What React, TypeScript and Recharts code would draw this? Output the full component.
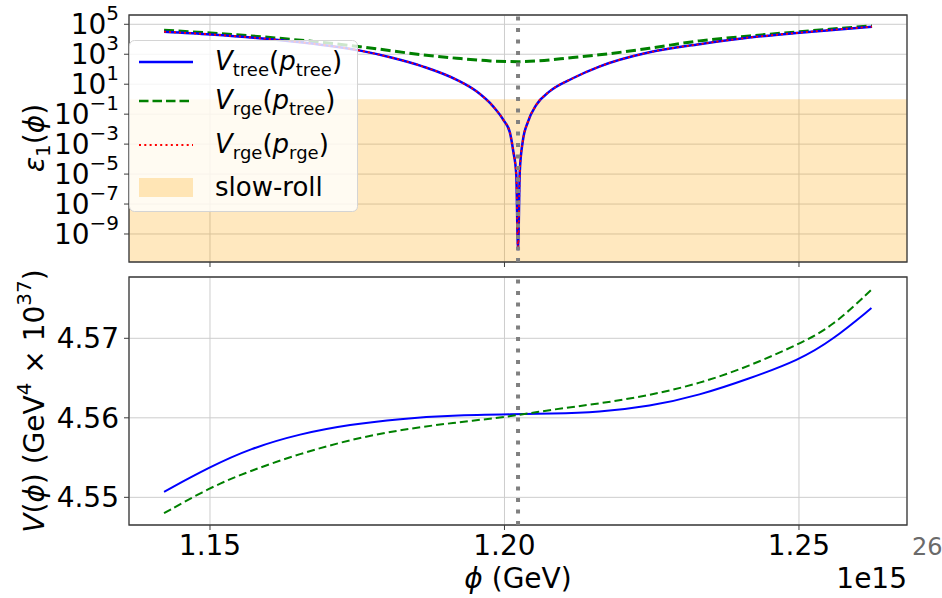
import {
  CartesianGrid,
  Line,
  LineChart,
  ReferenceArea,
  ReferenceLine,
  XAxis,
  YAxis,
} from 'recharts';

// phi in units of 1e15 GeV
const phiDomain: [number, number] = [1.13625, 1.26834];
const phiTicks = [1.15, 1.2, 1.25];
const phiInflection = 1.2023;

// epsilon_1
const epsTree = [
  { phi: 1.1422, eps: 3.2e4 },
  { phi: 1.1501, eps: 2.1e4 },
  { phi: 1.1644, eps: 6.9e3 },
  { phi: 1.1755, eps: 1.74e3 },
  { phi: 1.1806, eps: 6.3e2 },
  { phi: 1.1862, eps: 1.5e2 },
  { phi: 1.1919, eps: 1.95e1 },
  { phi: 1.1953, eps: 3.2 },
  { phi: 1.1981, eps: 3.2e-1 },
  { phi: 1.1998, eps: 4.2e-2 },
  { phi: 1.2009, eps: 6.3e-3 },
  { phi: 1.2015, eps: 3.2e-4 },
  { phi: 1.202, eps: 1.0e-5 },
  { phi: 1.2023, eps: 9.1e-11 },
  { phi: 1.2026, eps: 1.5e-5 },
  { phi: 1.2031, eps: 1.5e-3 },
  { phi: 1.204, eps: 3.2e-2 },
  { phi: 1.2054, eps: 4.2e-1 },
  { phi: 1.2076, eps: 3.2 },
  { phi: 1.2116, eps: 2.5e1 },
  { phi: 1.2161, eps: 1.5e2 },
  { phi: 1.2246, eps: 1.35e3 },
  { phi: 1.2331, eps: 4.7e3 },
  { phi: 1.2416, eps: 1.3e4 },
  { phi: 1.2501, eps: 2.75e4 },
  { phi: 1.2624, eps: 6.9e4 },
];
const epsRgeTree = [
  { phi: 1.1422, eps: 4.0e4 },
  { phi: 1.1501, eps: 2.6e4 },
  { phi: 1.1636, eps: 1.0e4 },
  { phi: 1.1755, eps: 3.2e3 },
  { phi: 1.1862, eps: 9.1e2 },
  { phi: 1.1919, eps: 5.4e2 },
  { phi: 1.1976, eps: 3.6e2 },
  { phi: 1.2023, eps: 3.2e2 },
  { phi: 1.2116, eps: 6.0e2 },
  { phi: 1.2161, eps: 9.1e2 },
  { phi: 1.2246, eps: 2.5e3 },
  { phi: 1.2331, eps: 7.8e3 },
  { phi: 1.2416, eps: 1.66e4 },
  { phi: 1.2501, eps: 3.2e4 },
  { phi: 1.2624, eps: 7.8e4 },
];
const epsRgeRge = epsTree;
const epsDomain: [number, number] = [1.35e-11, 4.17e5];
const epsTicks = [1e5, 1e3, 1e1, 1e-1, 1e-3, 1e-5, 1e-7, 1e-9];
const slowRollMax = 1;

// V(phi) in units of 1e37 GeV^4
const vTree = [
  { phi: 1.1422, v: 4.5507 },
  { phi: 1.15, v: 4.55383 },
  { phi: 1.1568, v: 4.55613 },
  { phi: 1.1653, v: 4.558 },
  { phi: 1.1738, v: 4.55917 },
  { phi: 1.1823, v: 4.55988 },
  { phi: 1.1908, v: 4.5603 },
  { phi: 1.202, v: 4.56045 },
  { phi: 1.2076, v: 4.56051 },
  { phi: 1.2161, v: 4.56072 },
  { phi: 1.2246, v: 4.56143 },
  { phi: 1.2331, v: 4.56283 },
  { phi: 1.2416, v: 4.56494 },
  { phi: 1.25, v: 4.56726 },
  { phi: 1.2557, v: 4.56979 },
  { phi: 1.2623, v: 4.5738 },
];
const vRge = [
  { phi: 1.1422, v: 4.548 },
  { phi: 1.15, v: 4.55125 },
  { phi: 1.1568, v: 4.55333 },
  { phi: 1.1653, v: 4.5555 },
  { phi: 1.1738, v: 4.55725 },
  { phi: 1.1823, v: 4.5585 },
  { phi: 1.1908, v: 4.55933 },
  { phi: 1.202, v: 4.56025 },
  { phi: 1.2076, v: 4.56101 },
  { phi: 1.2161, v: 4.56177 },
  { phi: 1.2246, v: 4.56283 },
  { phi: 1.2331, v: 4.5643 },
  { phi: 1.2416, v: 4.5665 },
  { phi: 1.25, v: 4.56928 },
  { phi: 1.2557, v: 4.57148 },
  { phi: 1.2623, v: 4.57612 },
];
const vDomain: [number, number] = [4.54652, 4.57771];
const vTicks = [4.55, 4.56, 4.57];

const FONT = 'DejaVu Sans';
const FRAME = '#3c3c3c';
const GRID = '#cdcdcd';

const LogTick = ({ x, y, payload }: any) => {
  const e = Math.round(Math.log10(payload.value));
  const exp = e < 0 ? `\u2212${-e}` : `${e}`;
  return (
    <text x={x} y={y + 10} textAnchor="end" fontFamily={FONT} fontSize={28} fill="#000">
      10
      <tspan dy={-14} fontSize={20}>
        {exp}
      </tspan>
    </text>
  );
};

const VTick = ({ x, y, payload }: any) => (
  <text x={x} y={y + 10} textAnchor="end" fontFamily={FONT} fontSize={28} fill="#000">
    {payload.value.toFixed(2)}
  </text>
);

const PhiTick = ({ x, y, payload }: any) => (
  <text x={x} y={y + 23} textAnchor="middle" fontFamily={FONT} fontSize={28} fill="#000">
    {payload.value.toFixed(2)}
  </text>
);

const NoTick = () => <g />;

// "V_a(p_b)" with math-style italics and subscripts
const VLabel = ({ x, y, a, b }: { x: number; y: number; a: string; b: string }) => (
  <text x={x} y={y} fontFamily={FONT} fontSize={26} fill="#000">
    <tspan fontStyle="italic">V</tspan>
    <tspan dy={6} fontSize={18}>{a}</tspan>
    <tspan dy={-6}>(</tspan>
    <tspan fontStyle="italic">p</tspan>
    <tspan dy={6} fontSize={18}>{b}</tspan>
    <tspan dy={-6}>)</tspan>
  </text>
);

export default function App() {
  return (
    <div
      style={{
        position: 'absolute',
        left: 0,
        top: 0,
        width: 942,
        height: 598,
        background: '#fff',
        fontFamily: FONT,
      }}
    >
      <div style={{ position: 'absolute', left: 0, top: 0 }}>
        <LineChart width={942} height={270} margin={{ top: 15, right: 35, left: 0, bottom: 0 }}>
          <CartesianGrid stroke={GRID} strokeWidth={1} />
          <XAxis
            type="number"
            dataKey="phi"
            domain={phiDomain}
            ticks={phiTicks}
            allowDataOverflow
            height={8}
            tickSize={5}
            tickLine={{ stroke: FRAME }}
            axisLine={false}
            tick={<NoTick />}
          />
          <YAxis
            type="number"
            scale="log"
            dataKey="eps"
            domain={epsDomain}
            ticks={epsTicks}
            allowDataOverflow
            width={129}
            tickSize={5}
            tickMargin={5}
            tickLine={{ stroke: FRAME }}
            axisLine={false}
            tick={<LogTick />}
          />
          <ReferenceArea
            y1={epsDomain[0]}
            y2={slowRollMax}
            fill="#ffa500"
            fillOpacity={0.25}
            stroke="none"
          />
          <Line
            data={epsRgeTree}
            dataKey="eps"
            type="monotone"
            stroke="#008000"
            strokeWidth={3}
            strokeDasharray="10 4.5"
            dot={false}
            isAnimationActive={false}
          />
          <Line
            data={epsTree}
            dataKey="eps"
            type="monotone"
            stroke="#0000ff"
            strokeWidth={2.5}
            dot={false}
            isAnimationActive={false}
          />
          <Line
            data={epsRgeRge}
            dataKey="eps"
            type="monotone"
            stroke="#ff0000"
            strokeWidth={1.8}
            strokeDasharray="2 3"
            dot={false}
            isAnimationActive={false}
          />
          <ReferenceLine x={phiInflection} stroke="#808080" strokeWidth={4} strokeDasharray="4 7.5" />
          <ReferenceArea
            x1={phiDomain[0]}
            x2={phiDomain[1]}
            y1={epsDomain[0]}
            y2={epsDomain[1]}
            fill="none"
            stroke={FRAME}
            strokeWidth={1.3}
          />
        </LineChart>
      </div>

      <div style={{ position: 'absolute', left: 0, top: 270 }}>
        <LineChart width={942} height={328} margin={{ top: 7, right: 35, left: 0, bottom: 0 }}>
          <CartesianGrid stroke={GRID} strokeWidth={1} />
          <XAxis
            type="number"
            dataKey="phi"
            domain={phiDomain}
            ticks={phiTicks}
            allowDataOverflow
            height={73}
            tickSize={5}
            tickLine={{ stroke: FRAME }}
            axisLine={false}
            tick={<PhiTick />}
          />
          <YAxis
            type="number"
            dataKey="v"
            domain={vDomain}
            ticks={vTicks}
            allowDataOverflow
            width={129}
            tickSize={5}
            tickMargin={5}
            tickLine={{ stroke: FRAME }}
            axisLine={false}
            tick={<VTick />}
          />
          <Line
            data={vTree}
            dataKey="v"
            type="basis"
            stroke="#0000ff"
            strokeWidth={2}
            dot={false}
            isAnimationActive={false}
          />
          <Line
            data={vRge}
            dataKey="v"
            type="basis"
            stroke="#008000"
            strokeWidth={2}
            strokeDasharray="8 4"
            dot={false}
            isAnimationActive={false}
          />
          <ReferenceLine x={phiInflection} stroke="#808080" strokeWidth={4} strokeDasharray="4 7.5" />
          <ReferenceArea
            x1={phiDomain[0]}
            x2={phiDomain[1]}
            y1={vDomain[0]}
            y2={vDomain[1]}
            fill="none"
            stroke={FRAME}
            strokeWidth={1.3}
          />
        </LineChart>
      </div>

      <svg
        width={942}
        height={598}
        style={{ position: 'absolute', left: 0, top: 0, pointerEvents: 'none' }}
      >
        {/* legend */}
        <rect x={129.5} y={40.5} width={228} height={171} rx={5} fill="#fff" fillOpacity={0.8} stroke="#d4d4d4" />
        <line x1={139} x2={193} y1={62} y2={62} stroke="#0000ff" strokeWidth={2.5} />
        <line x1={139} x2={193} y1={101} y2={101} stroke="#008000" strokeWidth={2.5} strokeDasharray="9.5 4" />
        <line x1={139} x2={193} y1={145} y2={145} stroke="#ff0000" strokeWidth={2} strokeDasharray="2 3.3" />
        <rect x={139} y={178} width={54} height={19} fill="#ffa500" fillOpacity={0.25} />
        <VLabel x={215} y={70} a="tree" b="tree" />
        <VLabel x={215} y={109} a="rge" b="tree" />
        <VLabel x={215} y={153} a="rge" b="rge" />
        <text x={215} y={196} fontFamily={FONT} fontSize={26} fill="#000">
          slow-roll
        </text>

        {/* axis labels */}
        <text
          transform="translate(44 138) rotate(-90)"
          textAnchor="middle"
          fontFamily={FONT}
          fontSize={28}
          fill="#000"
        >
          <tspan fontStyle="italic">ε</tspan>
          <tspan dy={6} fontSize={20}>1</tspan>
          <tspan dy={-6}>(</tspan>
          <tspan fontStyle="italic">ϕ</tspan>
          <tspan>)</tspan>
        </text>
        <text
          transform="translate(44 401) rotate(-90)"
          textAnchor="middle"
          fontFamily={FONT}
          fontSize={28}
          fill="#000"
        >
          <tspan fontStyle="italic">V</tspan>
          <tspan>(</tspan>
          <tspan fontStyle="italic">ϕ</tspan>
          <tspan>) (GeV</tspan>
          <tspan dy={-13} fontSize={20}>4</tspan>
          <tspan dy={13}> × 10</tspan>
          <tspan dy={-13} fontSize={20}>37</tspan>
          <tspan dy={13}>)</tspan>
        </text>
        <text x={518} y={588} textAnchor="middle" fontFamily={FONT} fontSize={28} fill="#000">
          <tspan fontStyle="italic">ϕ</tspan> (GeV)
        </text>
        <text x={907} y={588} textAnchor="end" fontFamily={FONT} fontSize={28} fill="#000">
          1e15
        </text>
        <text x={912} y={555} fontFamily={FONT} fontSize={24} fill="#6a6a6a">
          26
        </text>
      </svg>
    </div>
  );
}
